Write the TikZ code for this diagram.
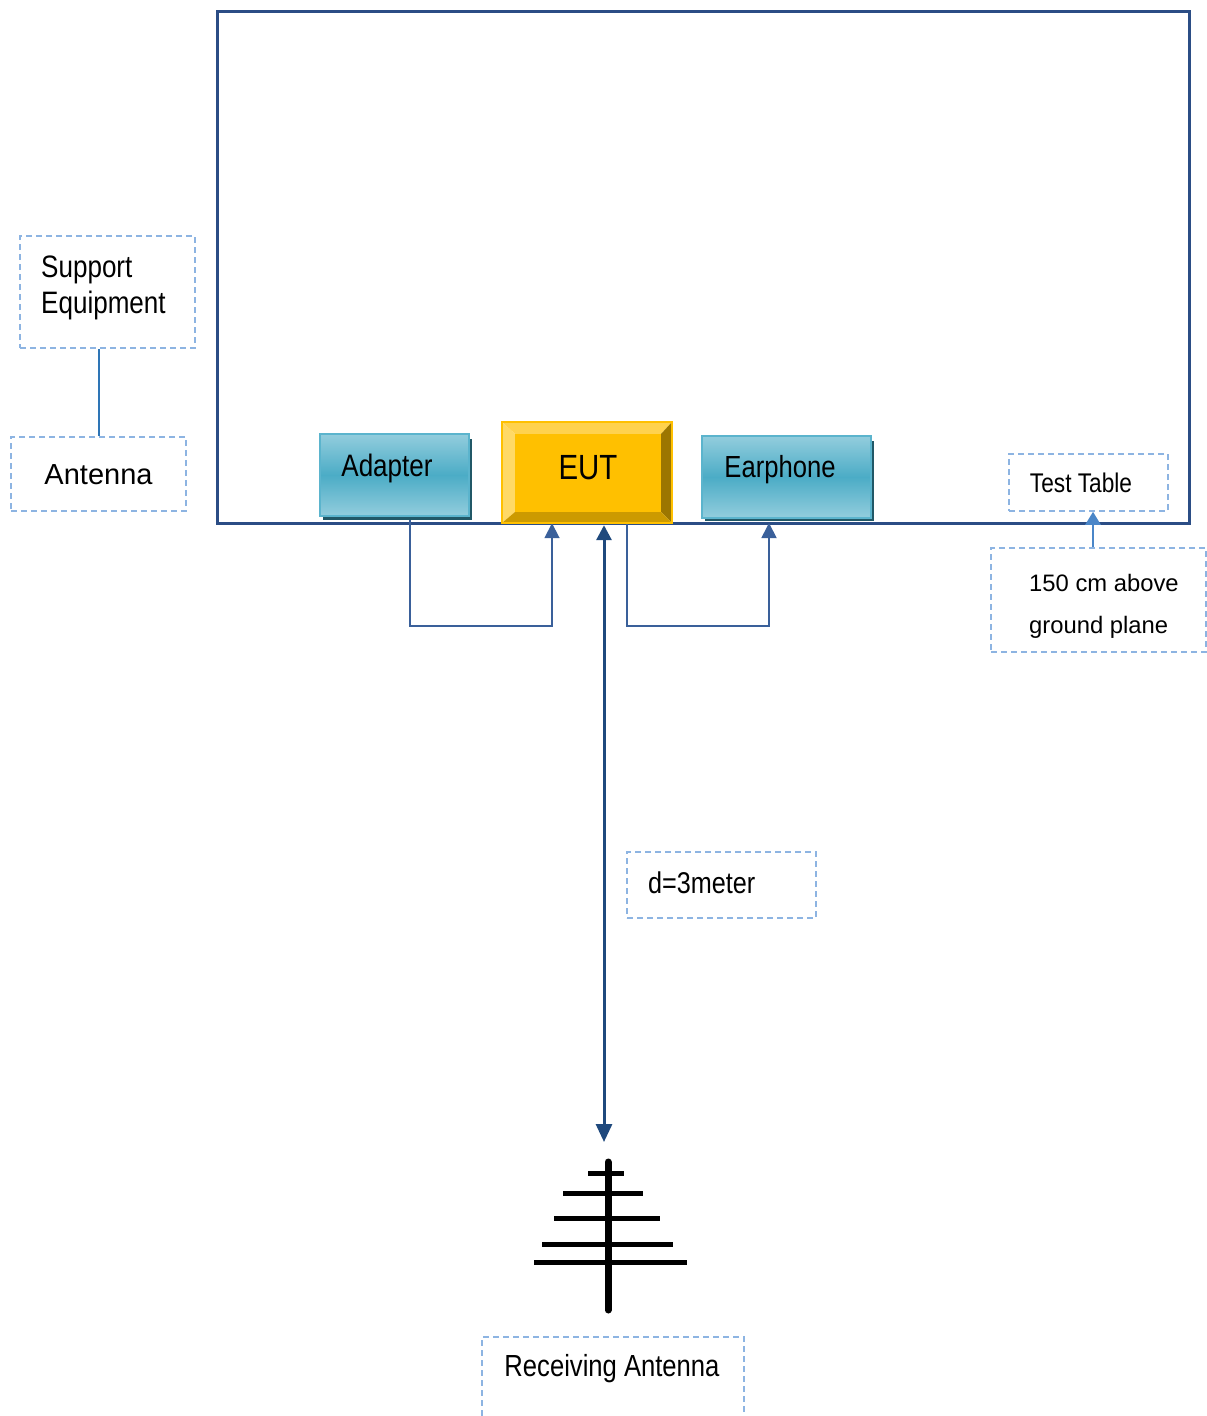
\documentclass[tikz,border=0pt]{standalone}
\usepackage{fontspec}
\setmainfont{Liberation Sans}
\newfontfamily\nfont[FakeStretch=0.84]{Liberation Sans}
\usetikzlibrary{arrows.meta,calc}
\definecolor{frameblue}{HTML}{2B4D85}
\definecolor{dashblue}{HTML}{8DB4E2}
\definecolor{connblue}{HTML}{3A609A}
\definecolor{mainblue}{HTML}{1F497D}
\definecolor{noteblue}{HTML}{4A86C8}
\definecolor{lineblue}{HTML}{2E75B6}
\definecolor{tealmid}{HTML}{4BACC6}
\definecolor{teallight}{HTML}{93CDDD}
\definecolor{tealborder}{HTML}{5BB4CD}
\definecolor{tealshadow}{HTML}{215867}
\definecolor{eutface}{HTML}{FFC000}
\definecolor{euttop}{HTML}{FFD24D}
\definecolor{eutleft}{HTML}{FFD966}
\definecolor{eutright}{HTML}{9C7600}
\definecolor{eutbottom}{HTML}{CC9A00}
\begin{document}
\begin{tikzpicture}[x=1pt,y=-1pt,
  dbox/.style={draw=dashblue, line width=1.5pt, dash pattern=on 6pt off 4pt, inner sep=0pt, rectangle},
  tealbox/.style={draw=tealborder, line width=2pt, top color=teallight, bottom color=teallight, middle color=tealmid, minimum height=82pt, inner sep=0pt},
  conn/.style={draw=connblue, line width=1.8pt},
  tipa/.style={-{Triangle[width=15pt,length=15pt]}},
  lbl/.style={inner sep=0pt, text=black},
  nlbl/.style={lbl, font=\nfont\fontsize{#1}{#1}\selectfont},
  rlbl/.style={lbl, font=\fontsize{#1}{#1}\selectfont},
]
\useasboundingbox (0,0) rectangle (1207,1416);

% dashed boxes
\node[dbox, minimum width=175pt, minimum height=112pt] (se) at (107.5,292) {};
\node[dbox, minimum width=175pt, minimum height=74pt] (ant) at (98.5,474) {};
\node[dbox, minimum width=159pt, minimum height=57pt] (tt) at (1088.5,482.5) {};
\node[dbox, minimum width=215pt, minimum height=104pt] (tn) at (1098.5,600) {};
\node[dbox, minimum width=189pt, minimum height=66pt] (dm) at (721.5,885) {};
\node[dbox, minimum width=262pt, minimum height=93pt] (ra) at (613,1383.5) {};

% table frame
\node[draw=frameblue, line width=3pt, minimum width=972pt, minimum height=512pt, inner sep=0pt] (table) at (703,267) {};

% EUT geometry (needed for anchors)
\node[minimum width=170pt, minimum height=101pt, inner sep=0pt] (eut) at (587,472.5) {};
\node[tealbox, minimum width=149pt] (adapter) at (394.5,475) {};
\node[tealbox, minimum width=169pt] (earphone) at (786.5,477) {};

% connectors
\draw[conn, tipa] ($(adapter.south)+(15.5,0)$) -- ++(0,109) -| ($(eut.south)+(-35,0)$);
\draw[conn, tipa] ($(eut.south)+(40,0)$) -- ++(0,103) -| ($(earphone.south)+(-17.5,4)$);
\coordinate (rxtop) at (604,1142);
\draw[mainblue, line width=3pt, {Triangle[width=15pt,length=15pt]}-{Triangle[width=16pt,length=18pt]}] ($(eut.south)+(17,2)$) -- (rxtop);

% shadows and teal boxes on top
\fill[tealshadow] (323,439) rectangle (472,520);
\fill[tealshadow] (705,441) rectangle (874,521);
\node[tealbox, minimum width=149pt] at (adapter) {};
\node[tealbox, minimum width=169pt] at (earphone) {};

% EUT bevel box
\fill[euttop] (502,422) -- (672,422) -- (661,434) -- (515,434) -- cycle;
\fill[eutleft] (502,422) -- (515,434) -- (515,512) -- (502,523) -- cycle;
\fill[eutright] (672,422) -- (672,523) -- (661,512) -- (661,434) -- cycle;
\fill[eutbottom] (502,523) -- (515,512) -- (661,512) -- (672,523) -- cycle;
\fill[eutface] (515,434) rectangle (661,512);
\draw[eutface, line width=1.5pt] (eut.north west) rectangle (eut.south east);

% other connectors
\draw[lineblue, line width=2pt] (ant.north |- se.south) -- (ant.north);
\coordinate (ax) at (1093,0);
\draw[noteblue, line width=2.5pt, -{Triangle[width=15pt,length=13pt]}] (tn.north -| ax) -- (tt.south -| ax);

% receiving antenna symbol
\draw[black, line width=7pt, line cap=round] (608,1162) -- (608,1310);
\draw[black, line width=5pt] (588,1173) -- (624,1173);
\draw[black, line width=5pt] (563,1193) -- (643,1193);
\draw[black, line width=5pt] (554,1218) -- (660,1218);
\draw[black, line width=5pt] (542,1244) -- (673,1244);
\draw[black, line width=5pt] (534,1262) -- (687,1262);

% texts
\node[lbl, anchor=west, align=left, font=\nfont\fontsize{31}{36}\selectfont] (setext) at (41,288) {Support\\Equipment};
\node[rlbl=29] (anttext) at (98.5,475) {Antenna};
\node[nlbl=31] (adtext) at (387,468) {Adapter};
\node[nlbl=35] (euttext) at (588,468) {EUT};
\node[nlbl=30.5] (eptext) at (780,470) {Earphone};
\node[nlbl=27] (tttext) at (1081,483) {Test Table};
\node[lbl, anchor=west, align=left, font=\fontsize{23.8}{42}\selectfont] (tntext) at (1029,606) {150 cm above\\ground plane};
\node[nlbl=30, anchor=west] (dmtext) at (648,883) {d=3meter};
\node[nlbl=30.5] (ratext) at (612,1369) {Receiving Antenna};
\end{tikzpicture}
\end{document}
